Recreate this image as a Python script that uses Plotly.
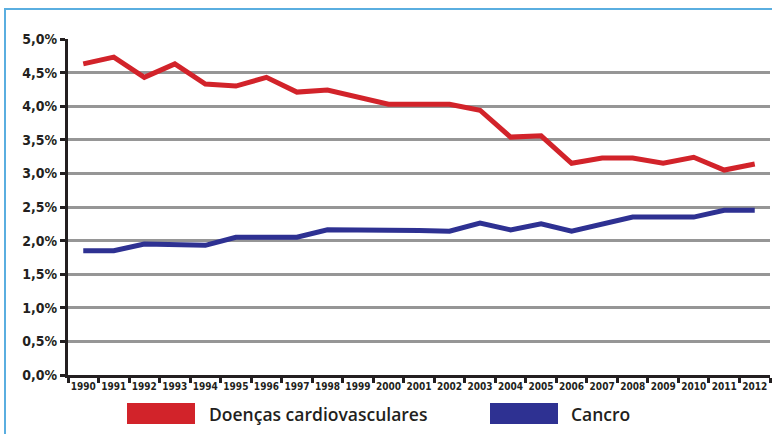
import plotly.graph_objects as go

years = [str(y) for y in range(1990, 2013)]
cardio = [4.63, 4.73, 4.43, 4.63, 4.33, 4.30, 4.43, 4.21, 4.24, 4.14, 4.03, 4.03, 4.03,
          3.94, 3.54, 3.56, 3.15, 3.23, 3.23, 3.15, 3.24, 3.05, 3.14]
cancro = [1.85, 1.85, 1.95, 1.94, 1.93, 2.05, 2.05, 2.05, 2.16, 2.16, 2.16, 2.15, 2.14,
          2.26, 2.16, 2.25, 2.14, 2.25, 2.35, 2.35, 2.35, 2.45, 2.45]
y_tickvals = [0, 0.5, 1, 1.5, 2, 2.5, 3, 3.5, 4, 4.5, 5]
y_ticktext = ["0,0%", "0,5%", "1,0%", "1,5%", "2,0%", "2,5%", "3,0%", "3,5%", "4,0%", "4,5%", "5,0%"]
series_names = ["Doenças cardiovasculares", "Cancro"]
colors = ["#d2232a", "#2e3192"]

fig = go.Figure()
fig.add_trace(go.Scatter(x=years, y=cardio, mode="lines", name=series_names[0],
                         line=dict(color=colors[0], width=5), showlegend=False))
fig.add_trace(go.Scatter(x=years, y=cancro, mode="lines", name=series_names[1],
                         line=dict(color=colors[1], width=5), showlegend=False))

L, R, T, B = 68, 2, 39, 59
W, H = 772, 434
pw, ph = W - L - R, H - T - B

def px(x):
    return (x - L) / pw

def py(y):
    return (H - B - y) / ph

shapes = [
    dict(type="rect", xref="paper", yref="paper", x0=px(5), x1=px(800), y0=py(9), y1=py(460),
         line=dict(color="#5aaee0", width=2), fillcolor="rgba(0,0,0,0)", layer="below"),
    dict(type="rect", xref="paper", yref="paper", x0=px(127), x1=px(195), y0=py(403), y1=py(424),
         line=dict(width=0), fillcolor=colors[0]),
    dict(type="rect", xref="paper", yref="paper", x0=px(490), x1=px(558), y0=py(403), y1=py(424),
         line=dict(width=0), fillcolor=colors[1]),
]
annotations = [
    dict(xref="paper", yref="paper", x=px(207), y=py(414), xanchor="left", yanchor="middle",
         text=series_names[0], showarrow=False,
         font=dict(family="Open Sans", size=17.5, color="#231f20", weight=600)),
    dict(xref="paper", yref="paper", x=px(569), y=py(414), xanchor="left", yanchor="middle",
         text=series_names[1], showarrow=False,
         font=dict(family="Open Sans", size=17.5, color="#231f20", weight=600)),
]

fig.update_layout(
    width=W, height=H,
    margin=dict(l=L, r=R, t=T, b=B),
    paper_bgcolor="white", plot_bgcolor="white",
    shapes=shapes, annotations=annotations,
    showlegend=False,
)
fig.update_xaxes(type="category", showgrid=False, showline=True, linecolor="#231f20", linewidth=3,
                 ticks="outside", tickson="boundaries", ticklen=5, tickwidth=3, tickcolor="#231f20",
                 tickfont=dict(family="DejaVu Sans Condensed", size=10, color="#231f20", weight="bold"),
                 tickangle=0, range=[-0.5, len(years) - 0.5])
fig.update_yaxes(range=[0, 5], tickvals=y_tickvals, ticktext=y_ticktext,
                 showgrid=True, gridcolor="#969696", gridwidth=3,
                 showline=True, linecolor="#231f20", linewidth=3, zeroline=False,
                 ticks="outside", ticklen=5, tickwidth=3, tickcolor="#231f20",
                 tickfont=dict(family="DejaVu Sans Condensed", size=14, color="#231f20", weight="bold"))

fig.write_html("out.html", config={"displayModeBar": False},
               post_script="document.body.style.margin='0';document.body.style.overflow='hidden';")
